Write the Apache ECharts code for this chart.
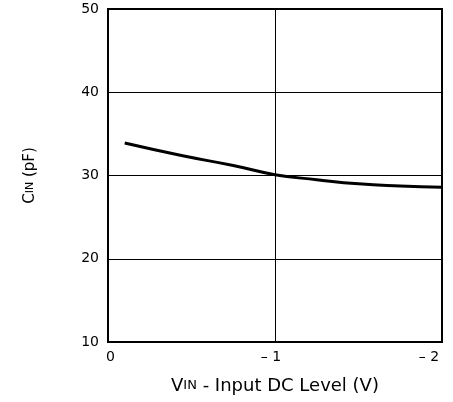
<!DOCTYPE html>
<html><head><meta charset="utf-8">
<script src="https://cdn.jsdelivr.net/npm/echarts@6/dist/echarts.min.js"></script>
<style>html,body{margin:0;padding:0;background:#fff}#c{width:453px;height:402px}</style>
</head><body><div id="c"></div>
<script>
const vin = [-0.1, -0.44, -0.75, -1.0, -1.25, -1.5, -1.75, -2.0];
const cin = [33.9, 32.4, 31.2, 30.1, 29.5, 29.0, 28.75, 28.6];
const xTickLabels = {"0": "{z|0}", "-1": "{m|– 1}", "-2": "{e|– 2}"};
const yTicks = [10, 20, 30, 40, 50];

const chart = echarts.init(document.getElementById('c'));
const font = 'DejaVu Sans, Liberation Sans, sans-serif';
const tl = {color: '#000', fontSize: 14, fontFamily: font};
chart.setOption({
  animation: false,
  grid: {left: 108, right: 11, top: 9, bottom: 60, show: true, borderColor: '#000', borderWidth: 2},
  xAxis: {
    type: 'value', min: -2, max: 0, interval: 1, inverse: true,
    axisLine: {show: false}, axisTick: {show: false},
    splitLine: {lineStyle: {color: '#000', width: 1}},
    axisLabel: {color: '#000', fontSize: 14, fontFamily: font, margin: 8,
      formatter: v => xTickLabels[String(v)] ?? '',
      rich: {
        z: Object.assign({padding: [0, 0, 0, 5]}, tl),
        m: Object.assign({padding: [0, 8, 0, 0]}, tl),
        e: Object.assign({padding: [0, 26, 0, 0]}, tl)
      }},
    name: '{a|V}{s|IN}{a| - Input DC Level (V)}', nameLocation: 'middle', nameGap: 35,
    nameTextStyle: {rich: {a: {fontSize: 18, fontFamily: font, color: '#000'}, s: {fontSize: 13, fontFamily: font, color: '#000'}}}
  },
  yAxis: {
    type: 'value', min: yTicks[0], max: yTicks[yTicks.length - 1], interval: 10,
    axisLine: {show: false}, axisTick: {show: false},
    splitLine: {lineStyle: {color: '#000', width: 1}},
    axisLabel: {color: '#000', fontSize: 14, fontFamily: font, margin: 9},
    name: '{a|C}{s|IN}{a| (pF)}', nameLocation: 'middle', nameGap: 70, nameRotate: 90,
    nameTextStyle: {rich: {a: {fontSize: 15, fontFamily: font, color: '#000'}, s: {fontSize: 11, fontFamily: font, color: '#000'}}}
  },
  series: [{
    type: 'line', data: vin.map((x, i) => [x, cin[i]]), smooth: true, symbol: 'none',
    lineStyle: {color: '#000', width: 3}
  }]
});
</script></body></html>
